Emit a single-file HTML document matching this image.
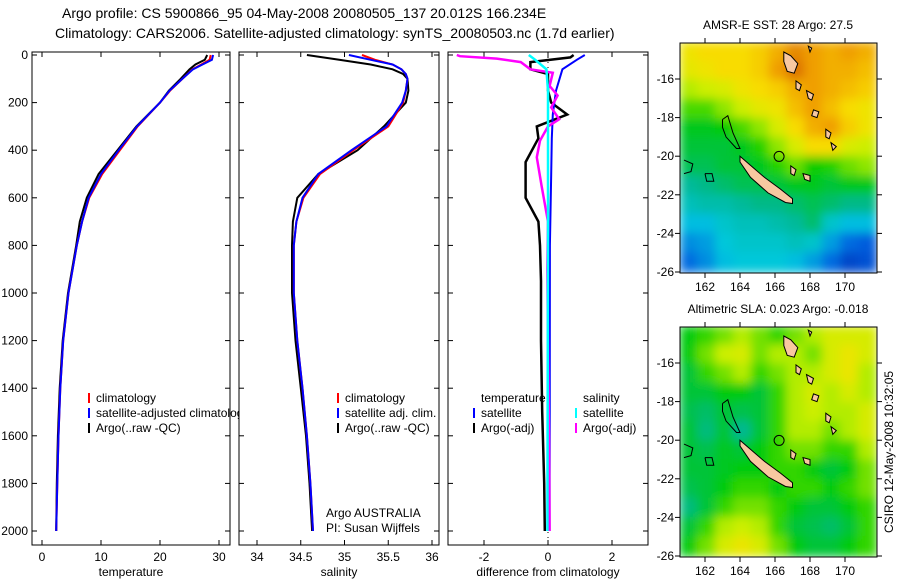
<!DOCTYPE html>
<html><head><meta charset="utf-8"><style>
body{margin:0;background:#fff}
svg{display:block;font-family:"Liberation Sans",sans-serif}
</style></head><body>
<svg id="c" width="900" height="580" viewBox="0 0 900 580">
<defs>
<filter id="bl" x="0" y="0" width="1" height="1"><feGaussianBlur stdDeviation="5"/></filter>
<clipPath id="cm1"><rect x="680" y="43" width="197" height="230"/></clipPath>
<clipPath id="cm2"><rect x="680" y="327" width="197" height="230"/></clipPath>
<clipPath id="cp1"><rect x="32" y="52" width="198" height="493"/></clipPath>
<clipPath id="cp2"><rect x="239" y="52" width="200" height="493"/></clipPath>
<clipPath id="cp3"><rect x="448" y="52" width="200" height="493"/></clipPath>
</defs>
<g id="root"></g>
</svg>
<script>
// ---- data ----
const tDepth=[0,20,40,60,100,150,200,300,400,500,600,700,800,1000,1200,1400,1600,1800,2000];
const tArgo=[28.0,27.6,26.0,25.0,23.5,21.5,20.0,16.0,12.8,9.6,7.6,6.4,5.8,4.4,3.5,3.0,2.7,2.5,2.4];
const tClim=[28.6,28.4,27.0,25.5,23.8,21.7,20.0,16.2,13.2,10.2,8.0,6.8,5.9,4.5,3.6,3.1,2.8,2.6,2.4];
const tSat=[29.0,28.8,27.2,25.6,23.8,21.6,20.0,16.1,13.0,10.0,7.9,6.8,5.9,4.5,3.6,3.1,2.8,2.6,2.4];
const sDepth=[0,20,40,60,80,100,150,200,300,400,500,600,700,800,1000,1200,1400,1600,1800,2000];
const sArgo=[34.57,34.94,35.3,35.55,35.67,35.72,35.73,35.70,35.45,35.15,34.70,34.46,34.41,34.40,34.40,34.44,34.50,34.56,34.60,34.63];
const sClim=[35.2,35.35,35.55,35.65,35.70,35.72,35.7,35.67,35.50,35.10,34.72,34.53,34.45,34.42,34.42,34.46,34.52,34.57,34.61,34.64];
const sSat=[35.05,35.30,35.55,35.65,35.70,35.72,35.7,35.66,35.48,35.08,34.70,34.52,34.45,34.42,34.42,34.46,34.52,34.57,34.61,34.64];
const dtArgoDepth=[0,10,30,60,80,150,200,250,300,350,450,600,700,800,950,1200,1500,1800,2000];
const dtArgo=[0.8,0.7,-0.55,-0.55,0,0,0.1,0.6,-0.35,-0.3,-0.7,-0.7,-0.3,-0.25,-0.22,-0.22,-0.18,-0.12,-0.1];
const dtSatDepth=[0,20,60,150,250,350,500,800,2000];
const dtSat=[1.15,0.9,0.45,0.25,0.15,0.12,0.1,0.06,0.05];
const dsArgoDepth=[0,5,15,30,60,75,130,170,220,270,300,360,430,550,700,900,1200,1600,2000];
const dsArgo=[-2.85,-2.75,-1.6,-0.85,-0.55,0.15,0.05,0.3,0.1,0.35,0,-0.25,-0.35,-0.2,0,-0.02,0.0,0.03,0.05];
const dsSatDepth=[0,20,60,150,400,800,2000];
const dsSat=[-0.6,-0.4,-0.05,0.0,0.0,0.0,-0.02];
const depthTicks=[0,200,400,600,800,1000,1200,1400,1600,1800,2000];
const tTicks=[0,10,20,30];
const sTicks=[34,34.5,35,35.5,36];
const dTicks=[-2,0,2];
const lonTicks=[162,164,166,168,170];
const latTicks=[-16,-18,-20,-22,-24,-26];
const sst=[
[27.8,27.9,27.9,27.9,28.0,28.2,28.4,28.3,28.2,28.3,28.2],
[27.7,27.8,27.9,27.9,28.0,28.3,28.5,28.3,28.2,28.2,28.1],
[27.4,27.5,27.6,27.8,27.9,28.0,28.2,28.3,28.2,28.1,28.0],
[27.1,27.1,27.3,27.5,27.7,27.8,28.1,28.3,28.1,27.9,27.8],
[26.8,26.8,26.9,27.1,27.3,27.6,27.9,28.2,28.3,28.0,27.8],
[26.7,26.7,26.7,26.8,27.0,27.3,27.6,27.9,27.9,27.6,27.5],
[26.6,26.6,26.7,26.7,26.8,27.0,27.2,26.9,27.0,27.2,27.3],
[26.3,26.4,26.5,26.6,26.6,26.7,26.8,26.8,26.7,26.8,26.8],
[26.1,26.2,26.2,26.3,26.4,26.4,26.5,26.6,26.5,26.4,26.4],
[25.8,25.8,26.0,26.1,26.1,26.2,26.3,26.5,26.0,25.8,25.8],
[25.5,25.6,25.9,26.0,26.0,26.0,26.1,26.0,25.6,25.3,25.2],
[25.3,25.5,25.8,25.9,25.9,25.9,25.8,25.6,25.3,25.0,25.1]];
const sla=[
[0.01,0.02,0.03,0.04,0.03,0.02,0.03,0.04,0.05,0.05,0.05],
[0.01,0.03,0.045,0.05,0.03,0.04,0.04,0.03,0.05,0.06,0.05],
[0.00,0.02,0.03,0.04,0.02,0.03,0.04,0.04,0.05,0.06,0.04],
[0.00,0.00,0.01,0.01,0.00,0.02,0.04,0.05,0.04,0.05,0.04],
[-0.005,-0.01,0.00,-0.005,0.00,0.02,0.04,0.045,0.04,0.04,0.05],
[0.00,-0.015,0.00,-0.02,0.00,0.02,0.04,0.04,0.03,0.04,0.05],
[0.00,-0.005,0.005,0.00,0.01,0.02,0.03,0.03,0.02,0.02,0.04],
[0.00,0.00,0.005,0.01,0.01,0.02,0.02,0.01,0.00,0.01,0.03],
[-0.005,0.00,0.01,0.02,0.02,0.01,0.02,0.02,0.01,0.02,0.03],
[-0.015,0.00,0.02,0.03,0.03,0.02,0.01,0.00,0.00,0.01,0.02],
[0.00,0.02,0.04,0.045,0.04,0.02,0.00,-0.005,-0.01,0.00,0.02],
[0.01,0.03,0.05,0.06,0.05,0.03,0.01,0.00,0.00,0.01,0.02]];

const NS='http://www.w3.org/2000/svg';
const root=document.getElementById('root');
function mk(tag,attrs,parent){const e=document.createElementNS(NS,tag);for(const k in attrs)e.setAttribute(k,attrs[k]);(parent||root).appendChild(e);return e;}
function txt(x,y,s,size,anchor,parent){const t=mk('text',{x:x,y:y,'font-size':size,'text-anchor':anchor||'start',fill:'#000'},parent);t.textContent=s;return t;}

const PB=545;
const dY=d=>55+d*0.238;
const tX=v=>42+5.9*v;
const sX=v=>257+87.5*(v-34);
const dX=v=>548+32*v;

let t=txt(62,18,'Argo profile: CS 5900866_95 04-May-2008 20080505_137 20.012S 166.234E',14);

t=txt(55,38,'Climatology: CARS2006. Satellite-adjusted climatology: synTS_20080503.nc (1.7d earlier)',14);


function panel(x0,x1,name,xs,ticks,fmt,xlabel,clip,showY){
  const g=mk('g',{});
  
  
  mk('rect',{x:x0,y:52,width:x1-x0,height:PB-52,fill:'#fff',stroke:'none'},g);
  ticks.forEach(v=>{const x=xs(v);
    mk('line',{x1:x,x2:x,y1:52,y2:57,stroke:'#000'},g);
    mk('line',{x1:x,x2:x,y1:PB,y2:PB-5,stroke:'#000'},g);
    const l=txt(x,561,fmt(v),12,'middle',g);});
  depthTicks.forEach(d=>{const y=dY(d);
    mk('line',{x1:x0,x2:x0+5,y1:y,y2:y,stroke:'#000'},g);
    mk('line',{x1:x1,x2:x1-5,y1:y,y2:y,stroke:'#000'},g);
    if(showY){const l=txt(28,y+4,String(d),12,'end',g);}});
  const xl=txt((x0+x1)/2,576,xlabel,12,'middle',g);
  
  const lines=mk('g',{'clip-path':'url(#'+clip+')'},g);
  return {g:g,lines:lines,x0:x0,x1:x1};
}
function series(p,xs,depths,vals,color,name,w){
  const pts=depths.map((d,i)=>xs(vals[i]).toFixed(1)+','+dY(d).toFixed(1)).join(' ');
  const pl=mk('polyline',{points:pts,fill:'none',stroke:color,'stroke-width':w||2},p.lines);
  
  
}
function frame(p){mk('rect',{x:p.x0,y:52,width:p.x1-p.x0,height:PB-52,fill:'none',stroke:'#000','stroke-width':1},p.g);}
function legendItem(g,x,y,color,label,name){
  if(color)mk('line',{x1:x,x2:x,y1:y-9,y2:y+1,stroke:color,'stroke-width':2},g);
  const l=txt(x+7,y,label,12,'start',g);
  
}

const p1=panel(32,230,'temperature-panel',tX,tTicks,v=>String(v),'temperature','cp1',true);
series(p1,tX,tDepth,tArgo,'#000','temperature-argo-line');
series(p1,tX,tDepth,tClim,'#f00','temperature-climatology-line');
series(p1,tX,tDepth,tSat,'#00f','temperature-satellite-line');
frame(p1);
const lg1=mk('g',{});


legendItem(lg1,89,402,'#f00','climatology','legend-climatology');
legendItem(lg1,89,417,'#00f','satellite-adjusted climatology','legend-satellite');
legendItem(lg1,89,432,'#000','Argo(..raw -QC)','legend-argo');

const p2=panel(239,439,'salinity-panel',sX,sTicks,v=>String(v),'salinity','cp2',false);
series(p2,sX,sDepth,sArgo,'#000','salinity-argo-line');
series(p2,sX,sDepth,sClim,'#f00','salinity-climatology-line');
series(p2,sX,sDepth,sSat,'#00f','salinity-satellite-line');
frame(p2);
const lg2=mk('g',{});


legendItem(lg2,338,402,'#f00','climatology','legend-climatology');
legendItem(lg2,338,417,'#00f','satellite adj. clim.','legend-satellite');
legendItem(lg2,338,432,'#000','Argo(..raw -QC)','legend-argo');
t=txt(326,517,'Argo AUSTRALIA',12);
t=txt(326,532,'PI: Susan Wijffels',12);

const p3=panel(448,648,'difference-panel',dX,dTicks,v=>String(v),'difference from climatology','cp3',false);
mk('line',{x1:dX(0),x2:dX(0),y1:52,y2:PB,stroke:'#000','stroke-dasharray':'1,4'},p3.lines);
series(p3,dX,dtArgoDepth,dtArgo,'#000','temperature-argo-diff-line',2.5);
series(p3,dX,dtSatDepth,dtSat,'#00f','temperature-satellite-diff-line');
series(p3,dX,dsArgoDepth,dsArgo,'#f0f','salinity-argo-diff-line',2.5);
series(p3,dX,dsSatDepth,dsSat,'#0ff','salinity-satellite-diff-line',2.5);
frame(p3);
const lg3=mk('g',{});


legendItem(lg3,474,402,null,'temperature','legend-temperature-heading');
legendItem(lg3,576,402,null,'salinity','legend-salinity-heading');
legendItem(lg3,474,417,'#00f','satellite','legend-temp-satellite');
legendItem(lg3,474,432,'#000','Argo(-adj)','legend-temp-argo');
legendItem(lg3,576,417,'#0ff','satellite','legend-sal-satellite');
legendItem(lg3,576,432,'#f0f','Argo(-adj)','legend-sal-argo');

const stops=[[0,[0,24,160]],[0.15,[0,96,224]],[0.3,[0,200,224]],[0.42,[0,184,144]],[0.55,[0,204,0]],[0.68,[200,240,0]],[0.78,[248,224,0]],[0.88,[240,160,0]],[1,[192,48,0]]];
function cmap(t){t=Math.max(0,Math.min(1,t));for(let i=1;i<stops.length;i++){if(t<=stops[i][0]){const a=stops[i-1],b=stops[i];const f=(t-a[0])/(b[0]-a[0]);const c=a[1].map((v,k)=>Math.round(v+(b[1][k]-v)*f));return 'rgb('+c.join(',')+')';}}return 'rgb(192,48,0)';}

const lonX=lon=>705+(lon-162)*17.5;
function drawMap(y0,grid,vmin,vmax,clip,title,name){
  const latY=lat=>y0+36+(-16-lat)*19.3;
  const g=mk('g',{});
  
  
  const tt=txt(778,y0-14,title,12,'middle',g);
  
  const cg=mk('g',{'clip-path':'url(#'+clip+')'},g);
  const hg=mk('g',{filter:'url(#bl)'},cg);
  const rows=grid.length,cols=grid[0].length;
  const lon0=160.6,lon1=171.8,lat0=-14.1,lat1=-26.0;
  const cw=(lon1-lon0)/cols, ch=(lat0-lat1)/rows;
  grid.forEach((row,r)=>row.forEach((v,c)=>{
    const x=lonX(lon0+c*cw), y=latY(lat0-r*ch);
    const cell=mk('rect',{x:x-1,y:y-1,width:cw*17.5+2,height:ch*19.3+2,fill:cmap((v-vmin)/(vmax-vmin))},hg);
    
    
  }));
  const P=q=>lonX(q[0]).toFixed(1)+','+latY(q[1]).toFixed(1);
  const isl=[[[164.0,-20.0],[164.5,-20.4],[165.4,-21.1],[166.3,-21.7],[167.0,-22.2],[167.0,-22.45],[166.6,-22.4],[165.6,-21.9],[164.6,-21.1],[164.0,-20.3]],
    [[166.5,-14.6],[166.9,-14.8],[167.3,-15.2],[167.1,-15.7],[166.7,-15.6],[166.5,-15.1]],[[167.2,-16.1],[167.5,-16.3],[167.4,-16.6],[167.2,-16.5]],
    [[167.8,-16.6],[168.2,-16.8],[168.1,-17.1],[167.9,-17.0]],[[168.2,-17.6],[168.5,-17.7],[168.4,-18.0],[168.1,-17.9]],[[168.9,-18.6],[169.2,-18.8],[169.1,-19.1],[168.9,-19.0]],
    [[169.2,-19.3],[169.5,-19.5],[169.3,-19.7]],[[167.6,-20.9],[168.0,-21.0],[168.0,-21.3],[167.7,-21.2]],[[166.9,-20.5],[167.2,-20.7],[167.1,-21.0],[166.9,-20.9]],
    [[167.9,-14.3],[168.1,-14.4],[168.0,-14.6]]];
  isl.forEach(p=>{const s=mk('polygon',{points:p.map(P).join(' '),fill:'#f8c8a0',stroke:'#000','stroke-width':1},cg);
    });
  const reef=mk('polyline',{points:[[163,-18.1],[163.3,-17.9],[163.6,-18.8],[164.0,-19.6],[163.8,-19.6],[163.2,-19.0],[163.0,-18.5],[163,-18.1]].map(P).join(' '),fill:'none',stroke:'#000','stroke-width':1},cg);
  
  const reef2=mk('polyline',{points:[[160.8,-20.2],[161.3,-20.4],[161.2,-20.8],[160.8,-20.9]].map(P).join(' '),fill:'none',stroke:'#000','stroke-width':1},cg);
  
  const reef3=mk('polyline',{points:[[162.0,-20.9],[162.4,-20.9],[162.5,-21.3],[162.1,-21.3],[162.0,-20.9]].map(P).join(' '),fill:'none',stroke:'#000','stroke-width':1},cg);
  
  const mkr=mk('circle',{cx:lonX(166.234),cy:latY(-20.012),r:5,fill:'none',stroke:'#000','stroke-width':1},cg);
  
  mk('rect',{x:680,y:y0,width:197,height:230,fill:'none',stroke:'#000'},g);
  lonTicks.forEach(l=>{const x=lonX(l);mk('line',{x1:x,x2:x,y1:y0,y2:y0-5,stroke:'#000'},g);mk('line',{x1:x,x2:x,y1:y0+230,y2:y0+235,stroke:'#000'},g);
    const lb=txt(x,y0+248,String(l),12,'middle',g);});
  latTicks.forEach(l=>{const y=latY(l);mk('line',{x1:877,x2:882,y1:y,y2:y,stroke:'#000'},g);mk('line',{x1:680,x2:675,y1:y,y2:y,stroke:'#000'},g);
    const lb=txt(674,y+4,String(l),12,'end',g);});
}
drawMap(43,sst,24.6,28.8,'cm1','AMSR-E SST: 28 Argo: 27.5','sst-map');
drawMap(327,sla,-0.12,0.12,'cm2','Altimetric SLA: 0.023 Argo: -0.018','sla-map');

t=txt(0,0,'CSIRO 12-May-2008 10:32:05',12,'middle');
t.setAttribute('transform','translate(893,452) rotate(-90)');

</script>
</body></html>
